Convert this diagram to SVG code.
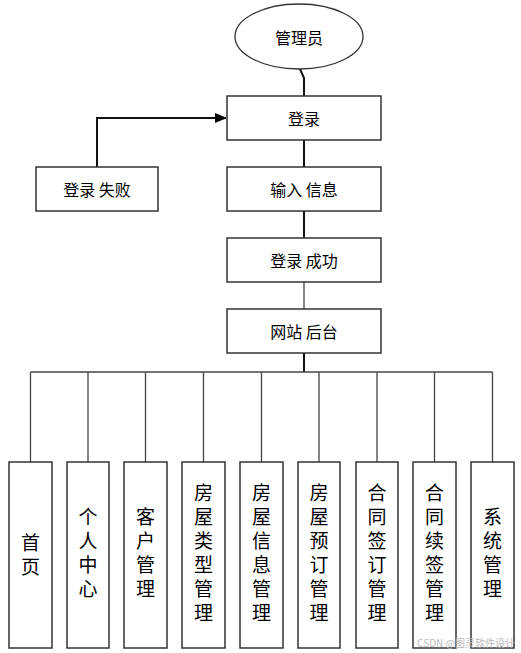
<svg xmlns="http://www.w3.org/2000/svg" width="521" height="653" viewBox="0 0 521 653">
<style>
.box{fill:#fff;stroke:#333;stroke-width:1.5}
.t{font-family:"Noto Sans CJK SC","Microsoft YaHei",sans-serif;font-size:16px;fill:#000;text-anchor:middle;dominant-baseline:central}
.v{font-family:"Noto Sans CJK SC",sans-serif;font-size:19px;fill:#000;text-anchor:middle;writing-mode:vertical-rl;letter-spacing:5px}
.ln{fill:none;stroke:#111;stroke-width:2}
.ln2{fill:none;stroke:#444;stroke-width:1.3}
</style>
<defs>
<marker id="arr" markerWidth="12" markerHeight="10" refX="11" refY="5" orient="auto" markerUnits="userSpaceOnUse">
<path d="M0,0 L12,5 L0,10 Z" fill="#000"/>
</marker>
</defs>
<g id="connectors">
<path class="ln" d="M300,69 L304,78 L304,96"/>
<path class="ln" d="M97,167 L97,118 L226,118" marker-end="url(#arr)"/>
<path class="ln" d="M304,140 L304,167"/>
<path class="ln" d="M304,211 L304,238"/>
<path class="ln2" d="M304,282 L304,309"/>
<path class="ln" d="M304,353 L304,372"/>
<path class="ln2" d="M30.5,372 L492.5,372"/>
<path class="ln2" d="M30.5,372V462 M88,372V462 M145.5,372V462 M203.5,372V462 M261.5,372V462 M319,372V462 M377,372V462 M434.5,372V462 M492.5,372V462"/>
</g>
<g id="admin">
<ellipse cx="299" cy="36.5" rx="64" ry="32.5" fill="#fff" stroke="#333" stroke-width="1.3"/>
<text class="t" x="299" y="37">管理员</text>
</g>
<g id="login"><rect class="box" x="227" y="96" width="154" height="44"/><text class="t" x="304" y="118">登录</text></g>
<g id="loginfail"><rect class="box" x="36" y="167" width="122" height="44"/><text class="t" x="97" y="189">登录 失败</text></g>
<g id="input"><rect class="box" x="227" y="167" width="154" height="44"/><text class="t" x="304" y="189">输入 信息</text></g>
<g id="success"><rect class="box" x="227" y="238" width="154" height="44"/><text class="t" x="304" y="260">登录 成功</text></g>
<g id="backend"><rect class="box" x="227" y="309" width="154" height="44"/><text class="t" x="304" y="331">网站 后台</text></g>
<g id="m1"><rect class="box" x="9" y="462" width="43" height="186"/><text class="v" x="30.5" y="557">首页</text></g>
<g id="m2"><rect class="box" x="67" y="462" width="42" height="186"/><text class="v" x="88" y="555">个人中心</text></g>
<g id="m3"><rect class="box" x="124" y="462" width="43" height="186"/><text class="v" x="145.5" y="555">客户管理</text></g>
<g id="m4"><rect class="box" x="182" y="462" width="43" height="186"/><text class="v" x="203.5" y="555">房屋类型管理</text></g>
<g id="m5"><rect class="box" x="240" y="462" width="43" height="186"/><text class="v" x="261.5" y="555">房屋信息管理</text></g>
<g id="m6"><rect class="box" x="298" y="462" width="42" height="186"/><text class="v" x="319" y="555">房屋预订管理</text></g>
<g id="m7"><rect class="box" x="356" y="462" width="42" height="186"/><text class="v" x="377" y="555">合同签订管理</text></g>
<g id="m8"><rect class="box" x="413" y="462" width="43" height="186"/><text class="v" x="434.5" y="555">合同续签管理</text></g>
<g id="m9"><rect class="box" x="471" y="462" width="43" height="186"/><text class="v" x="492.5" y="555">系统管理</text></g>
<text x="515" y="642" font-family="'Noto Sans CJK SC',sans-serif" font-size="10" fill="#bbb" text-anchor="end" dominant-baseline="central">CSDN @图灵软件设计</text>
</svg>
